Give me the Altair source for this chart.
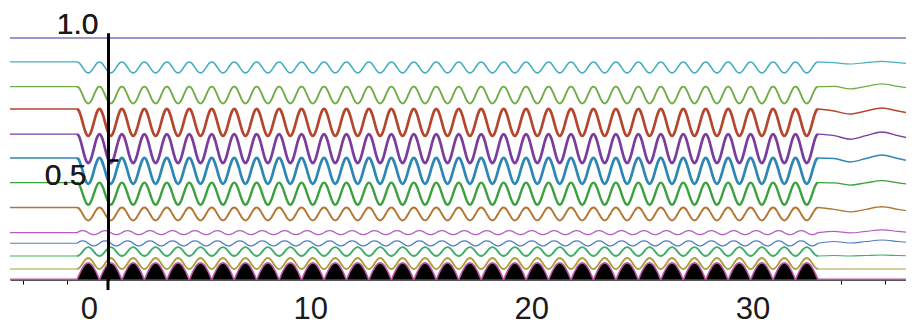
import altair as alt
import pandas as pd

# ---------------- values ----------------
X_DOMAIN = [-3.57, 36.94]
Y_DOMAIN = [0.0276, 1.0]
X_LABEL_VALUES = [0, 10, 20, 30]
X_MINOR_TICKS = [-3, -1, 34, 36]
Y_LABEL_VALUES = [0.5, 1.0]
Y_TICK_VALUES = [0.5]
Y_AXIS_X = [0.86]          # where the vertical axis crosses the x scale
Y_AXIS_STUB = [-0.012, 0.0276]  # the axis line reaches a little below the bottom

X_LEFT = -3.6
WAVE_START = -0.54
WAVE_END = 32.96
N_CYCLES = 33
TAIL_X = [33.69, 34.41, 35.13, 35.85, 36.57, 37.3]
TAIL_SHAPE = [0.0, -1.0, 0.0, 1.0, 0.0, -1.0]

# one period of each waveform (12 samples)
FLAT_SHAPE = [0.0, 0.0, 0.0, 0.0, 0.0, 0.0, 0.0, 0.0, 0.0, 0.0, 0.0, 0.0]
DIP_SHAPE = [0.0, -0.067, -0.25, -0.5, -0.75, -0.933, -1.0, -0.933, -0.75, -0.5, -0.25, -0.067]
RISE_SHAPE = [0.0, 0.067, 0.25, 0.5, 0.75, 0.933, 1.0, 0.933, 0.75, 0.5, 0.25, 0.067]
SWING_SHAPE = [0.0, 0.5, 0.866, 1.0, 0.866, 0.5, 0.0, -0.5, -0.866, -1.0, -0.866, -0.5]
BUMP_SHAPE = [0.0, 0.259, 0.5, 0.707, 0.866, 0.966, 1.0, 0.966, 0.866, 0.707, 0.5, 0.259]

trace_names = ["t1", "t2", "t3", "t4", "t5", "t6", "t7", "t8", "t9", "t10", "t11", "t12", "t13"]
trace_levels = [0.980, 0.886, 0.789, 0.701, 0.602, 0.508, 0.411, 0.313, 0.214, 0.172, 0.122, 0.071, 0.029]
trace_amps = [0.0, 0.043, 0.067, 0.106, 0.114, 0.102, 0.087, 0.051, 0.008, 0.010, 0.035, 0.043, 0.066]
trace_shapes = ["flat", "dip", "dip", "dip", "dip", "dip", "dip", "dip",
                "swing", "swing", "rise", "rise", "bump"]
trace_tail_offsets = [0.0, -0.003, 0.001, -0.008, -0.006, -0.002, -0.001, -0.007,
                      0.005, 0.007, 0.002, 0.0, 0.0]
trace_tail_amps = [0.0, 0.005, 0.010, 0.012, 0.014, 0.014, 0.0085, 0.010,
                   0.006, 0.006, 0.002, 0.0, 0.0]
trace_colors = ["#7f6fb8", "#46aebf", "#6fac45", "#b5462e", "#7a3d9e", "#2e86b4", "#3ba03e",
                "#b57535", "#b25fbf", "#4f7cc4", "#3fae6a", "#a8a03c", "#c052a8"]
wave_widths = [1.5, 1.6, 1.9, 2.7, 2.7, 2.7, 2.4, 2.0, 1.3, 1.3, 1.9, 1.9, 1.6]
side_widths = [1.5, 1.2, 1.2, 1.4, 1.4, 1.4, 1.3, 1.3, 1.1, 1.1, 1.2, 1.2, 2.2]

SHAPES = {"flat": FLAT_SHAPE, "dip": DIP_SHAPE, "rise": RISE_SHAPE,
          "swing": SWING_SHAPE, "bump": BUMP_SHAPE}

# ---------------- build tables ----------------
period = (WAVE_END - WAVE_START) / N_CYCLES
rows = []
area_rows = []
for name, lvl, amp, shp, toff, tamp, ww, sw in zip(trace_names, trace_levels, trace_amps, trace_shapes,
                                                   trace_tail_offsets, trace_tail_amps,
                                                   wave_widths, side_widths):
    shape = SHAPES[shp]
    wave = []
    for c in range(N_CYCLES):
        for k, s in enumerate(shape):
            wave.append((WAVE_START + (c + k / len(shape)) * period, lvl + amp * s))
    wave.append((WAVE_END, lvl + amp * shape[0]))
    left = [(X_LEFT, lvl), (WAVE_START, lvl)]
    tail = [(WAVE_END, lvl + amp * shape[0])]
    for tx, ts in zip(TAIL_X, TAIL_SHAPE):
        tail.append((tx, lvl + toff + tamp * ts))
    for part, pts, w in (("left", left, sw), ("wave", wave, ww), ("tail", tail, sw)):
        for i, (x, v) in enumerate(pts):
            rows.append({"trace": name, "seg": name + part, "x": x, "v": v, "w": w, "idx": i})
    if shp == "bump":
        for x, v in wave:
            area_rows.append({"x": x, "v": v, "base": lvl})

df = pd.DataFrame(rows)
area_df = pd.DataFrame(area_rows)
stub_df = pd.DataFrame({"x": Y_AXIS_X, "y0": [Y_AXIS_STUB[0]], "y1": [Y_AXIS_STUB[1]]})

FONT = "Liberation Sans"
xscale = alt.Scale(domain=X_DOMAIN, nice=False, zero=False)
yscale = alt.Scale(domain=Y_DOMAIN, nice=False, zero=False)

x_axis = alt.Axis(
    values=X_MINOR_TICKS + X_LABEL_VALUES,
    labelExpr="datum.value % 10 == 0 ? datum.label : ''",
    tickOpacity={"condition": {"test": "datum.value % 10 == 0", "value": 0}, "value": 1},
    tickSize=4, tickColor="black", tickWidth=1,
    domainColor="#555555", domainWidth=1,
    labelFont=FONT, labelFontSize=31, labelColor="#1a1a1a", labelPadding=10,
    labelOverlap=False, labelFlush=False, grid=False, title=None,
)

y_axis_left = alt.Axis(
    orient="left", values=Y_LABEL_VALUES, format=".1f", offset=-98,
    ticks=False, tickSize=0, domainColor="black", domainWidth=3,
    labelFont=FONT, labelFontSize=30, labelColor="#1a1a1a",
    labelBaseline={"condition": {"test": "datum.value == 1", "value": "alphabetic"}, "value": "top"},
    labelPadding={"condition": {"test": "datum.value == 1", "value": 10}, "value": 22},
    labelOverlap=False, labelFlush=False, grid=False, zindex=2, title=None,
)

y_axis_right = alt.Axis(
    orient="right", values=Y_TICK_VALUES, offset=-798, labels=False, domain=False,
    tickSize=10, tickWidth=2.5, tickColor="black", grid=False, zindex=2, title=None,
)

area = alt.Chart(area_df).mark_area(color="black", interpolate="monotone", clip=True).encode(
    x=alt.X("x:Q", scale=xscale, axis=x_axis),
    y=alt.Y("v:Q", scale=yscale, axis=y_axis_right),
    y2="base:Q",
)

lines = alt.Chart(df).mark_line(interpolate="monotone", clip=True).encode(
    x=alt.X("x:Q", scale=xscale, axis=x_axis),
    y=alt.Y("v:Q", scale=yscale, axis=y_axis_left),
    color=alt.Color("trace:N", scale=alt.Scale(domain=trace_names, range=trace_colors), legend=None),
    detail="seg:N",
    strokeWidth=alt.StrokeWidth("w:Q", scale=None, legend=None),
    order=alt.Order("idx:Q"),
)

stub = alt.Chart(stub_df).mark_rule(color="black", strokeWidth=3, clip=False).encode(
    x=alt.X("x:Q", scale=xscale, axis=x_axis),
    y=alt.Y("y0:Q", scale=yscale, axis=y_axis_left),
    y2="y1:Q",
)

chart = (
    alt.layer(area, lines, stub)
    .resolve_axis(y="independent")
    .properties(
        width=896, height=247,
        autosize=alt.AutoSizeParams(type="none"),
        padding={"left": 2, "top": 25, "right": 0, "bottom": 45},
        background="white",
    )
    .configure_view(stroke=None)
)

chart.save("out.html", embed_options={"renderer": "svg", "actions": False})
